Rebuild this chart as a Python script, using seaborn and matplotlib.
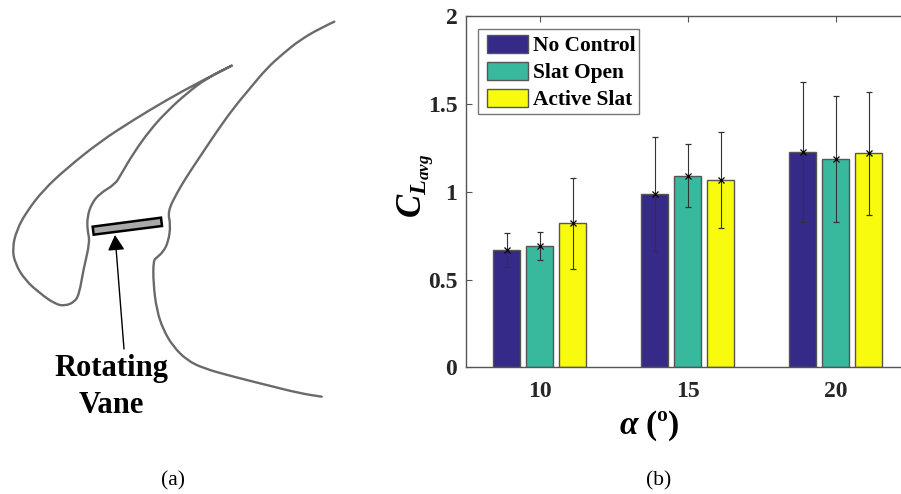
import numpy as np
import pandas as pd
import matplotlib
matplotlib.use("Agg")
import matplotlib.pyplot as plt
import seaborn as sns
from matplotlib.path import Path
from matplotlib.patches import PathPatch, Polygon, Rectangle

# chart values
angles = ["10", "15", "20"]
cases = ["No Control", "Slat Open", "Active Slat"]
no_control = [0.67, 0.99, 1.225]
slat_open = [0.69, 1.09, 1.185]
active_slat = [0.82, 1.07, 1.22]
no_control_low = [0.573, 0.661, 0.828]
no_control_high = [0.763, 1.314, 1.626]
slat_open_low = [0.611, 0.912, 0.828]
slat_open_high = [0.773, 1.27, 1.544]
active_slat_low = [0.558, 0.795, 0.866]
active_slat_high = [1.077, 1.339, 1.569]
colors = ["#352a87", "#38b99e", "#f9fb0e"]
y_ticks = [0, 0.5, 1, 1.5, 2]
y_tick_labels = ["0", "0.5", "1", "1.5", "2"]

# schematic outlines, traced in 3x zoom pixels
slat_x = [695, 600, 500, 400, 300, 200, 130, 80, 50, 37, 45, 75, 120, 165, 195, 225, 238, 250, 270, 262,
          262, 275, 300, 345, 362, 400, 450, 500, 560, 620, 695]
slat_y = [197, 245, 300, 360, 425, 505, 570, 635, 690, 745, 790, 840, 880, 912, 918, 905, 880, 810, 725, 690,
          650, 610, 580, 553, 525, 460, 390, 335, 280, 235, 197]
main_x = [1003, 960, 900, 850, 800, 750, 700, 650, 600, 560, 530, 503, 512, 505, 490, 470, 460, 460, 470, 490,
          520, 560, 610, 700, 800, 900, 965]
main_y = [65, 85, 120, 160, 205, 265, 325, 395, 470, 530, 580, 635, 675, 725, 755, 773, 782, 850, 930, 990,
          1040, 1080, 1105, 1130, 1155, 1180, 1190]
vane_x = [278, 483, 486, 281]
vane_y = [680, 653, 678, 704]

sns.set_theme(style="white")
plt.rcParams["font.family"] = ["Liberation Serif", "DejaVu Serif"]
plt.rcParams["mathtext.fontset"] = "custom"
plt.rcParams["mathtext.it"] = "Liberation Serif:italic:bold"
plt.rcParams["mathtext.rm"] = "Liberation Serif:bold"

fig = plt.figure(figsize=(9.01, 4.94), dpi=100)

# left panel: schematic in pixel coordinates
sketch = fig.add_axes([0, 0, 1, 1])
sketch.set_xlim(0, 901)
sketch.set_ylim(494, 0)
sketch.axis("off")


def smooth_outline(xs, ys):
    pts = np.column_stack([xs, ys]) / 3
    verts = [pts[0]]
    codes = [Path.MOVETO]
    for i in range(1, len(pts) - 1):
        verts += [pts[i], (pts[i] + pts[i + 1]) / 2]
        codes += [Path.CURVE3, Path.CURVE3]
    verts.append(pts[-1])
    codes.append(Path.LINETO)
    sketch.add_patch(PathPatch(Path(verts, codes), fill=False, edgecolor="#6a6a6a", lw=1.7, capstyle="round"))


smooth_outline(slat_x, slat_y)
smooth_outline(main_x, main_y)
sketch.add_patch(Polygon(np.column_stack([vane_x, vane_y]) / 3, closed=True, facecolor="#a9a9a9",
                         edgecolor="black", lw=1.8))
sketch.annotate("", xy=(115, 235), xytext=(124, 349),
                arrowprops=dict(arrowstyle="-|>,head_length=0.62,head_width=0.34", color="black", lw=1,
                                shrinkA=0, shrinkB=0, mutation_scale=15))
sketch.text(111, 368, "Rotating", ha="center", va="center", fontsize=22, fontweight="bold", color="black")
sketch.text(111, 405, "Vane", ha="center", va="center", fontsize=22, fontweight="bold", color="black")
sketch.text(173, 481, "(a)", ha="center", va="center", fontsize=15.5, color="black")
sketch.text(659, 481, "(b)", ha="center", va="center", fontsize=15.5, color="black")

# right panel: bars, the axes runs a little past the figure edge
df = pd.DataFrame({
    "angle": angles * 3,
    "case": np.repeat(cases, 3),
    "cl": no_control + slat_open + active_slat,
})
ax = fig.add_axes([465.7 / 901, (494 - 367.3) / 494, 444 / 901, 351 / 494])
sns.barplot(data=df, x="angle", y="cl", hue="case", order=angles, hue_order=cases, palette=colors,
            width=0.67, gap=0.19, saturation=1, edgecolor="#555555", linewidth=1, errorbar=None, ax=ax)

lows = [no_control_low, slat_open_low, active_slat_low]
highs = [no_control_high, slat_open_high, active_slat_high]
means = [no_control, slat_open, active_slat]
for bars, low, high, mean in zip(ax.containers, lows, highs, means):
    xpos = [b.get_x() + b.get_width() / 2 for b in bars]
    ax.errorbar(xpos, mean, yerr=[np.subtract(mean, low), np.subtract(high, mean)], fmt="x", color="black",
                ecolor="#333333", elinewidth=0.8, capsize=2, capthick=0.8, markersize=5, markeredgewidth=0.9)

ax.set_xlim(-0.5, 2.5)
ax.set_ylim(0, 2)
ax.set_yticks(y_ticks, y_tick_labels)
ax.tick_params(axis="both", direction="in", length=4.5, width=0.8, color="#555555", top=True, left=True,
               bottom=True, labelsize=17, labelcolor="#262626")
ax.tick_params(axis="x", pad=10)
ax.tick_params(axis="y", pad=6)
for lab in ax.get_xticklabels() + ax.get_yticklabels():
    lab.set_fontweight("bold")
for side in ["top", "left", "bottom"]:
    ax.spines[side].set_color("#555555")
    ax.spines[side].set_linewidth(1)
ax.spines["right"].set_visible(False)
ax.set_xlabel("")
ax.set_ylabel("")
sketch.text(649, 426, r"$\alpha$ (º)", ha="center", va="center", fontsize=24, fontweight="bold", color="black")
sketch.text(416, 186, r"$C_{L_{avg}}$", ha="center", va="center", rotation=90, fontsize=25, color="black")

# legend frame drawn by hand, its padding is tighter above and below than at the sides
ax.add_patch(Rectangle((478.3, 29.3), 161, 84.4, transform=sketch.transData, facecolor="white",
                       edgecolor="#777777", lw=1, zorder=4, clip_on=False))
handles, labels = ax.get_legend_handles_labels()
leg = ax.legend(handles, labels, loc="upper left", bbox_to_anchor=(487 / 901, 1 - 35 / 494),
                bbox_transform=fig.transFigure, frameon=False, handlelength=1.92, handleheight=0.93,
                labelspacing=0.25, handletextpad=0.22, borderpad=0, borderaxespad=0, title=None,
                prop={"weight": "bold", "size": 15.4})
for t in leg.get_texts():
    t.set_color("black")

fig.savefig("out.png", dpi=100)
